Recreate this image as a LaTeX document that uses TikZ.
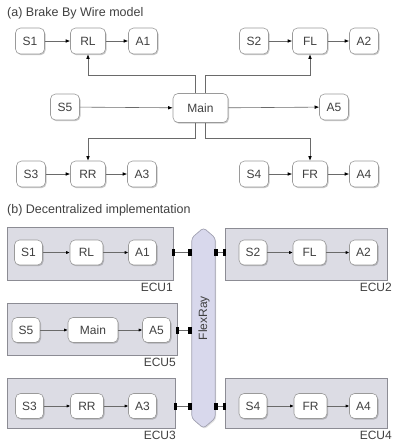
\documentclass[tikz,border=0pt]{standalone}
\usepackage{fontspec}
\setmainfont{Liberation Sans}
\usetikzlibrary{arrows.meta,shadows,calc}

\definecolor{linegray}{HTML}{6A6A6A}
\definecolor{boxedge}{HTML}{9A9A9A}
\definecolor{ecufill}{HTML}{DCDCE4}
\definecolor{ecuedge}{HTML}{8C8C94}
\definecolor{busfill}{HTML}{D8D8EC}
\definecolor{busedge}{HTML}{A0A0B0}
\definecolor{txt}{HTML}{404040}

\begin{document}
\begin{tikzpicture}[x=1pt,y=-1pt,
  blk/.style={draw=boxedge, fill=white, rounded corners=5pt, line width=0.6pt,
    minimum height=26pt, inner sep=0pt, text=txt,
    font=\fontsize{12}{12}\selectfont,
    drop shadow={shadow xshift=1pt, shadow yshift=-1.2pt, opacity=0.3, fill=black!70}},
  sw/.style={blk, minimum width=29pt},
  mw/.style={blk, minimum width=35pt},
  bsw/.style={blk, minimum width=28pt, minimum height=25pt},
  bmw/.style={blk, minimum width=33pt, minimum height=25pt},
  arr/.style={draw=linegray, line width=0.6pt, -{Latex[length=4.5pt,width=3.6pt,color=black]}},
  sarr/.style={draw=linegray, line width=0.6pt, -{Latex[length=3.5pt,width=3.2pt,color=black]}},
  ecu/.style={draw=ecuedge, fill=ecufill, line width=0.7pt, inner sep=0pt,
    drop shadow={shadow xshift=1pt, shadow yshift=-1.2pt, opacity=0.25, fill=black!60}},
  ecutag/.style={anchor=north east, inner sep=0pt, text=txt, font=\fontsize{12}{12}\selectfont},
  ttl/.style={anchor=west, inner sep=0pt, text=txt, font=\fontsize{12.5}{12.5}\selectfont},
  port/.style={fill=black, draw=none, minimum width=3.5pt, minimum height=7pt, inner sep=0pt},
  link/.style={draw=linegray, line width=0.6pt}
]
\useasboundingbox (0,0) rectangle (392,445);

% ---------------- (a) Brake By Wire model ----------------
\node[ttl] (ta) at (7,13) {(a) Brake By Wire model};

\node[sw] (s1) at (30,41) {S1};
\node[mw] (rl) at (88,41) {RL};
\node[sw] (a1) at (143,41) {A1};

\node[sw] (s2) at (254,41) {S2};
\node[mw] (fl) at (310,41) {FL};
\node[sw] (a2) at (364,41) {A2};

\node[sw] (s5) at (65,107) {S5};
\node[blk, minimum width=55pt, minimum height=29pt] (main) at (200.5,108) {Main};
\node[sw] (a5) at (334,107) {A5};

\node[sw] (s3) at (31,174) {S3};
\node[mw] (rr) at (88,174) {RR};
\node[sw] (a3) at (142,174) {A3};

\node[sw] (s4) at (254,174) {S4};
\node[mw] (fr) at (310,174) {FR};
\node[sw] (a4) at (364,174) {A4};

\draw[arr] (s1) -- (rl);
\draw[arr] (rl) -- (a1);
\draw[arr] (s2) -- (fl);
\draw[arr] (fl) -- (a2);
\draw[arr] (s3) -- (rr);
\draw[arr] (rr) -- (a3);
\draw[arr] (s4) -- (fr);
\draw[arr] (fr) -- (a4);
\draw[arr] (s5) -- (main);
\draw[arr] (main) -- (a5);

% distribution lines leaving the main controller
\coordinate (topbar) at (0,75);
\coordinate (botbar) at (0,138);
\draw[arr] ([xshift=-5pt]main.north) -- ([xshift=-5pt]main.north |- topbar) -| (rl.south);
\draw[arr] ([xshift=5pt]main.north) -- ([xshift=5pt]main.north |- topbar) -| (fl.south);
\draw[arr] ([xshift=-5pt]main.south) -- ([xshift=-5pt]main.south |- botbar) -| (rr.north);
\draw[arr] ([xshift=5pt]main.south) -- ([xshift=5pt]main.south |- botbar) -| (fr.north);

% ---------------- (b) Decentralized implementation ----------------
\node[ttl] (tb) at (7,210) {(b) Decentralized implementation};

% ECU frames
\node[ecu, minimum width=166pt, minimum height=53pt] (ecu1) at (90,253.5) {};
\node[ecu, minimum width=162pt, minimum height=52pt] (ecu2) at (306,254) {};
\node[ecu, minimum width=170pt, minimum height=52pt] (ecu5) at (92,329) {};
\node[ecu, minimum width=168pt, minimum height=50pt] (ecu3) at (91,403) {};
\node[ecu, minimum width=162pt, minimum height=50pt] (ecu4) at (306,403) {};

\node[ecutag] (l1) at (173,283) {ECU1};
\node[ecutag] (l2) at (392,283) {ECU2};
\node[ecutag] (l5) at (176,358) {ECU5};
\node[ecutag] (l3) at (176,431) {ECU3};
\node[ecutag] (l4) at (392,431) {ECU4};

% FlexRay bus
\node[minimum width=23pt, minimum height=200pt, inner sep=0pt] (bus) at (203.5,328) {};
\draw[draw=busedge, fill=busfill, line width=0.7pt, rounded corners=3pt,
      drop shadow={shadow xshift=1pt, shadow yshift=-1.2pt, opacity=0.2, fill=black!60}]
  ([yshift=-10pt]bus.north west) -- (bus.north) -- ([yshift=-10pt]bus.north east)
  -- ([yshift=10pt]bus.south east) -- (bus.south) -- ([yshift=10pt]bus.south west) -- cycle;
\node[rotate=90, inner sep=0pt, text=txt, font=\fontsize{12}{12}\selectfont] (busl) at (204,318) {FlexRay};

% ECU 1
\node[bsw] (bs1) at (28.5,252.5) {S1};
\node[bmw] (brl) at (86.5,252.5) {RL};
\node[bsw] (ba1) at (142.5,252.5) {A1};
\draw[sarr] (bs1) -- (brl);
\draw[sarr] (brl) -- (ba1);

% ECU 2
\node[bsw] (bs2) at (253,252.5) {S2};
\node[bmw] (bfl) at (309.5,252.5) {FL};
\node[bsw] (ba2) at (363.5,252.5) {A2};
\draw[sarr] (bs2) -- (bfl);
\draw[sarr] (bfl) -- (ba2);

% ECU 5
\node[bsw] (bs5) at (26,330) {S5};
\node[blk, minimum width=50pt, minimum height=25pt] (bmain) at (93,330) {Main};
\node[bsw] (ba5) at (156.5,330) {A5};
\draw[sarr] (bs5) -- (bmain);
\draw[sarr] (bmain) -- (ba5);

% ECU 3
\node[bsw] (bs3) at (29.5,406) {S3};
\node[bmw] (brr) at (87,406) {RR};
\node[bsw] (ba3) at (142.5,406) {A3};
\draw[sarr] (bs3) -- (brr);
\draw[sarr] (brr) -- (ba3);

% ECU 4
\node[bsw] (bs4) at (253,406) {S4};
\node[bmw] (bfr) at (310.5,406) {FR};
\node[bsw] (ba4) at (363.5,406) {A4};
\draw[sarr] (bs4) -- (bfr);
\draw[sarr] (bfr) -- (ba4);

% bus attachments
\node[port] (p1e) at (ecu1.east |- ba1) {};
\node[port] (p1b) at (190,252.5) {};
\draw[link] (p1e) -- (p1b);

\node[port] (p2b) at (216,252.5) {};
\node[port] (p2e) at (ecu2.west |- bs2) {};
\draw[link] (p2b) -- (p2e);

\node[port] (p5e) at (ecu5.east |- ba5) {};
\node[port] (p5b) at (190,330) {};
\draw[link] (p5e) -- (p5b);

\node[port] (p3e) at (ecu3.east |- ba3) {};
\node[port] (p3b) at (190,406) {};
\draw[link] (p3e) -- (p3b);

\node[port] (p4b) at (216,406) {};
\node[port] (p4e) at (ecu4.west |- bs4) {};
\draw[link] (p4b) -- (p4e);
\end{tikzpicture}
\end{document}
